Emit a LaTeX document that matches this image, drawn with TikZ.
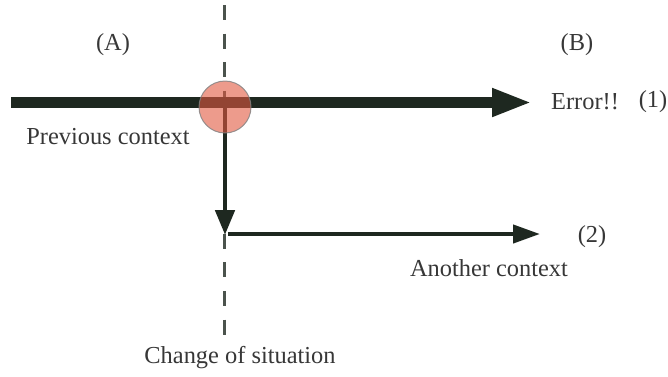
\documentclass[tikz,border=0pt]{standalone}
\usepackage{fontspec}
\setmainfont{Liberation Serif}
\usepackage{xcolor}
\usepackage{tikz}
\usetikzlibrary {arrows.meta,positioning}

\definecolor{linedark}{RGB}{30,40,32}
\definecolor{spot}{RGB}{225,88,64}
\definecolor{labelgray}{RGB}{55,55,55}

\tikzset{
  label/.style = {text=labelgray, font=\fontsize{12.2}{14}\selectfont, inner sep=0pt},
  guide/.style = {draw=linedark!80, line width=1.5pt, dash pattern=on 7.5pt off 6.8pt},
  flow/.style  = {draw=linedark, fill=linedark}
}

\begin{document}
\begin{tikzpicture}[x=0.5pt, y=-0.5pt]
\useasboundingbox (0,0) rectangle (668,376);

\node (a) at (113,45) [label]{(A)};
\node (b) at (577,45) [label]{(B)};
\node (prev) at (108,137) [label]{Previous context};
\node (err) at (585,102) [label]{Error!!};
\node (n1) at (653,102) [label]{(1)};
\node (n2) at (592,237) [label]{(2)};
\node (other) at (489,268) [label]{Another context};
\node (change) at (240,358) [label]{Change of situation};

\coordinate (top) at (224,5);
\coordinate (bottom) at (224,337);
\coordinate (start) at (11,102.5);
\coordinate (tip1) at (532,102.5);
\coordinate (turn) at (225,106);
\coordinate (tip2) at (225,235);
\coordinate (fork) at (228,234);
\coordinate (tip3) at (540,234);

\draw [guide] (top) -- (bottom);

\draw [flow, line width=5.5pt, -{Triangle[length=20pt,width=13pt]}] (start) -- (tip1);
\draw [flow, line width=2.4pt, -{Triangle[length=12.5pt,width=9.5pt]}] (turn) -- (tip2);
\draw [flow, line width=2.1pt, -{Triangle[length=13.5pt,width=9pt]}] (fork) -- (tip3);

\node (hit) at (225,107) [circle, minimum size=26pt, inner sep=0pt,
  fill=spot, fill opacity=0.6, draw=gray, draw opacity=0.8, line width=0.5pt]{};

\end{tikzpicture}
\end{document}
